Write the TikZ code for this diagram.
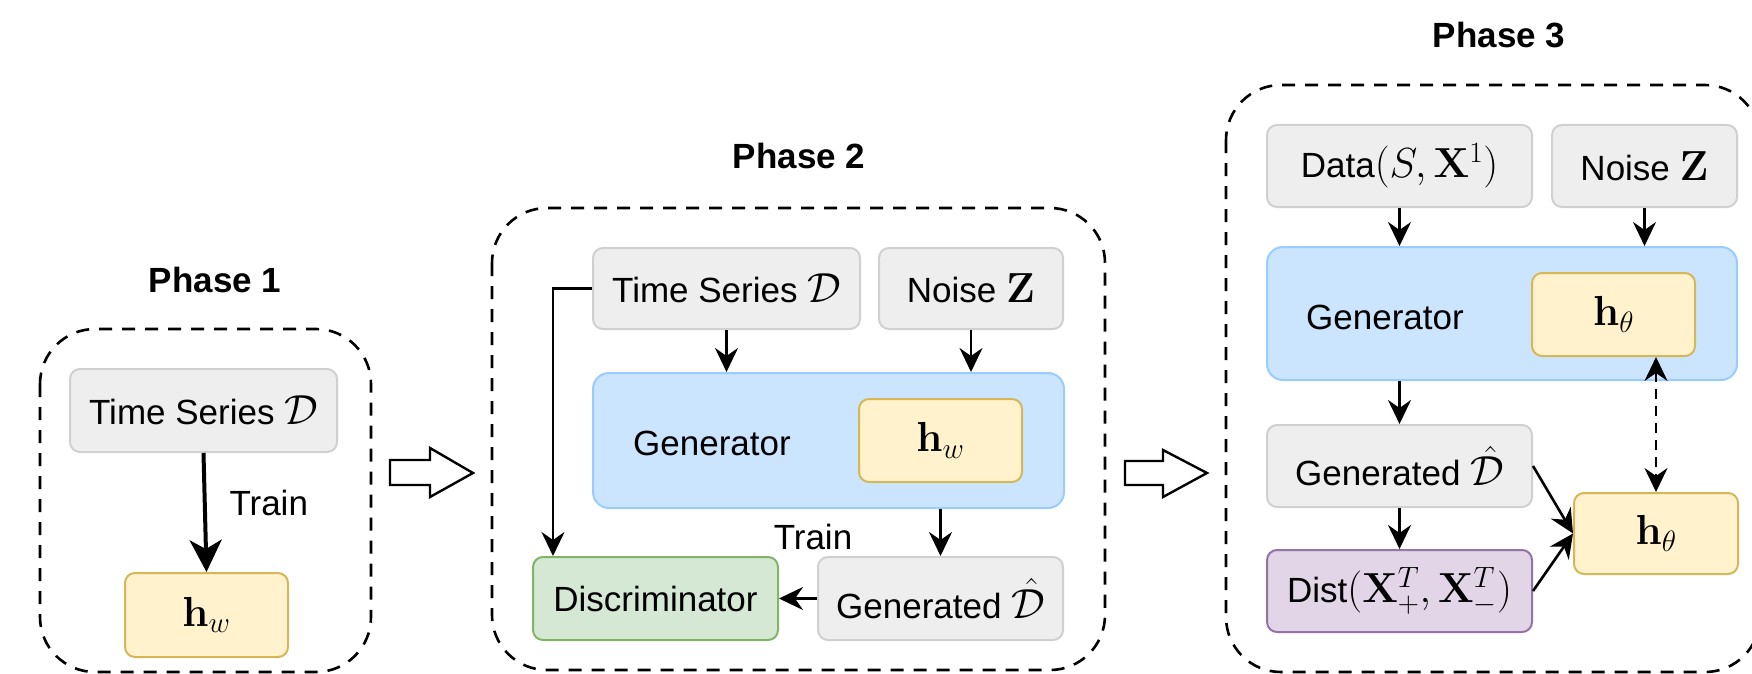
\documentclass[tikz,border=0pt]{standalone}
\usepackage{fix-cm}
\usepackage{amsmath}
\usepackage[no-math]{fontspec}
\setmainfont{Liberation Sans}
\usetikzlibrary{arrows.meta}
\definecolor{grayF}{HTML}{EEEEEE}
\definecolor{grayD}{HTML}{D0D0D0}
\definecolor{blueF}{HTML}{CCE5FF}
\definecolor{blueD}{HTML}{99CCFF}
\definecolor{yelF}{HTML}{FFF2CC}
\definecolor{yelD}{HTML}{D6B656}
\definecolor{grnF}{HTML}{D5E8D4}
\definecolor{grnD}{HTML}{82B366}
\definecolor{purF}{HTML}{E1D5E7}
\definecolor{purD}{HTML}{9673A6}
\newcommand{\mth}[1]{{\fontsize{42}{50}\selectfont$#1$}}
\begin{document}
\begin{tikzpicture}[x=1pt,y=-1pt,
  every node/.style={font=\fontsize{35}{42}\selectfont},
  box/.style={rectangle, rounded corners=10pt, line width=2pt, inner sep=0pt, align=center},
  gbox/.style={box, fill=grayF, draw=grayD},
  bbox/.style={box, rounded corners=16pt, fill=blueF, draw=blueD},
  ybox/.style={box, fill=yelF, draw=yelD},
  grbox/.style={box, fill=grnF, draw=grnD},
  pbox/.style={box, fill=purF, draw=purD},
  frame/.style={line width=2.6pt, dash pattern=on 13pt off 10pt, rounded corners=55pt},
  title/.style={font=\bfseries\fontsize{35}{42}\selectfont},
  arr/.style={line width=2.6pt, -{Stealth[length=24pt,width=23pt,inset=8pt]}},
  bigarr/.style={line width=4pt, -{Stealth[length=32pt,width=32pt,inset=9pt]}},
  darr/.style={line width=2.6pt, dash pattern=on 10pt off 7pt, {Stealth[length=24pt,width=23pt,inset=8pt]}-{Stealth[length=24pt,width=23pt,inset=8pt]}},
  hollow/.style={line width=2.4pt, fill=white, line join=miter}
]
\useasboundingbox (0,0) rectangle (1752,674);
\clip (0,0) rectangle (1752,674);

% ---------------- Phase 1 ----------------
\node[title] (t1) at (215,280) {Phase 1};
\draw[frame] (40,329) rectangle (371,672);
\node[gbox, minimum width=267pt, minimum height=83pt] (ts1) at (203.5,410.5) {Time Series \mth{\mathcal{D}}};
\node[ybox, minimum width=163pt, minimum height=84pt] (hw1) at (206.5,615) {\mth{\mathbf{h}_w}};
\draw[bigarr] (ts1.south) -- (hw1.north);
\node[anchor=west] (train1) at (226,503) {Train};

% hollow arrow 1
\draw[hollow] (390,460) -- (430,460) -- (430,448) -- (473,473) -- (430,497) -- (430,485) -- (390,485) -- cycle;

% ---------------- Phase 2 ----------------
\node[title] (t2) at (799,156) {Phase 2};
\draw[frame] (492,208) rectangle (1105,670);
\node[gbox, minimum width=267pt, minimum height=81pt] (ts2) at (726.5,288.5) {Time Series \mth{\mathcal{D}}};
\node[gbox, minimum width=184pt, minimum height=81pt] (nz2) at (971,288.5) {Noise \mth{\mathbf{Z}}};
\node[bbox, minimum width=471pt, minimum height=135pt] (gen2) at (828.5,440.5) {};
\node (genl2) at (712,443) {Generator};
\node[ybox, minimum width=163pt, minimum height=83pt] (hw2) at (940.5,440.5) {\mth{\mathbf{h}_w}};
\node[grbox, minimum width=245pt, minimum height=83pt] (disc) at (655.5,598.5) {Discriminator};
\node[gbox, minimum width=245pt, minimum height=83pt] (gd2) at (940.5,598.5) {Generated \mth{\hat{\mathcal{D}}}};
\node (train2) at (813,537) {Train};
\coordinate (c2) at (553,288.5);
\draw[arr] (ts2.south) -- (ts2.south |- gen2.north);
\draw[arr] (nz2.south) -- (nz2.south |- gen2.north);
\draw[arr] (gd2.north |- gen2.south) -- (gd2.north);
\draw[arr] (gd2.west) -- (disc.east);
\draw[arr] (ts2.west) -- (c2) -- (c2 |- disc.north);

% hollow arrow 2
\draw[hollow] (1125,461) -- (1163,461) -- (1163,450) -- (1207,473) -- (1163,497) -- (1163,485) -- (1125,485) -- cycle;

% ---------------- Phase 3 ----------------
\node[title] (t3) at (1499,35) {Phase 3};
\draw[frame] (1226,85) rectangle (1760,672);
\node[gbox, minimum width=265pt, minimum height=82pt] (data) at (1399.5,166) {Data\mth{(S,\mathbf{X}^1)}};
\node[gbox, minimum width=185pt, minimum height=82pt] (nz3) at (1644.5,166) {Noise \mth{\mathbf{Z}}};
\node[bbox, minimum width=470pt, minimum height=133pt] (gen3) at (1502,313.5) {};
\node (genl3) at (1385,317) {Generator};
\node[ybox, minimum width=163pt, minimum height=83pt] (hti) at (1613.5,314.5) {\mth{\mathbf{h}_\theta}};
\node[gbox, minimum width=265pt, minimum height=82pt] (gd3) at (1399.5,466) {Generated \mth{\hat{\mathcal{D}}}};
\node[pbox, minimum width=265pt, minimum height=82pt] (dist) at (1399.5,591) {Dist\mth{(\mathbf{X}_+^T,\mathbf{X}_-^T)}};
\node[ybox, minimum width=164pt, minimum height=81pt] (ht) at (1656,533.5) {\mth{\mathbf{h}_\theta}};
\draw[arr] (data.south) -- (data.south |- gen3.north);
\draw[arr] (nz3.south) -- (nz3.south |- gen3.north);
\draw[arr] (gd3.north |- gen3.south) -- (gd3.north);
\draw[arr] (gd3.south) -- (dist.north);
\draw[arr] (gd3.east) -- (ht.west);
\draw[arr] (dist.east) -- (ht.west);
\draw[darr] (ht.north |- hti.south) -- (ht.north);
\end{tikzpicture}
\end{document}
